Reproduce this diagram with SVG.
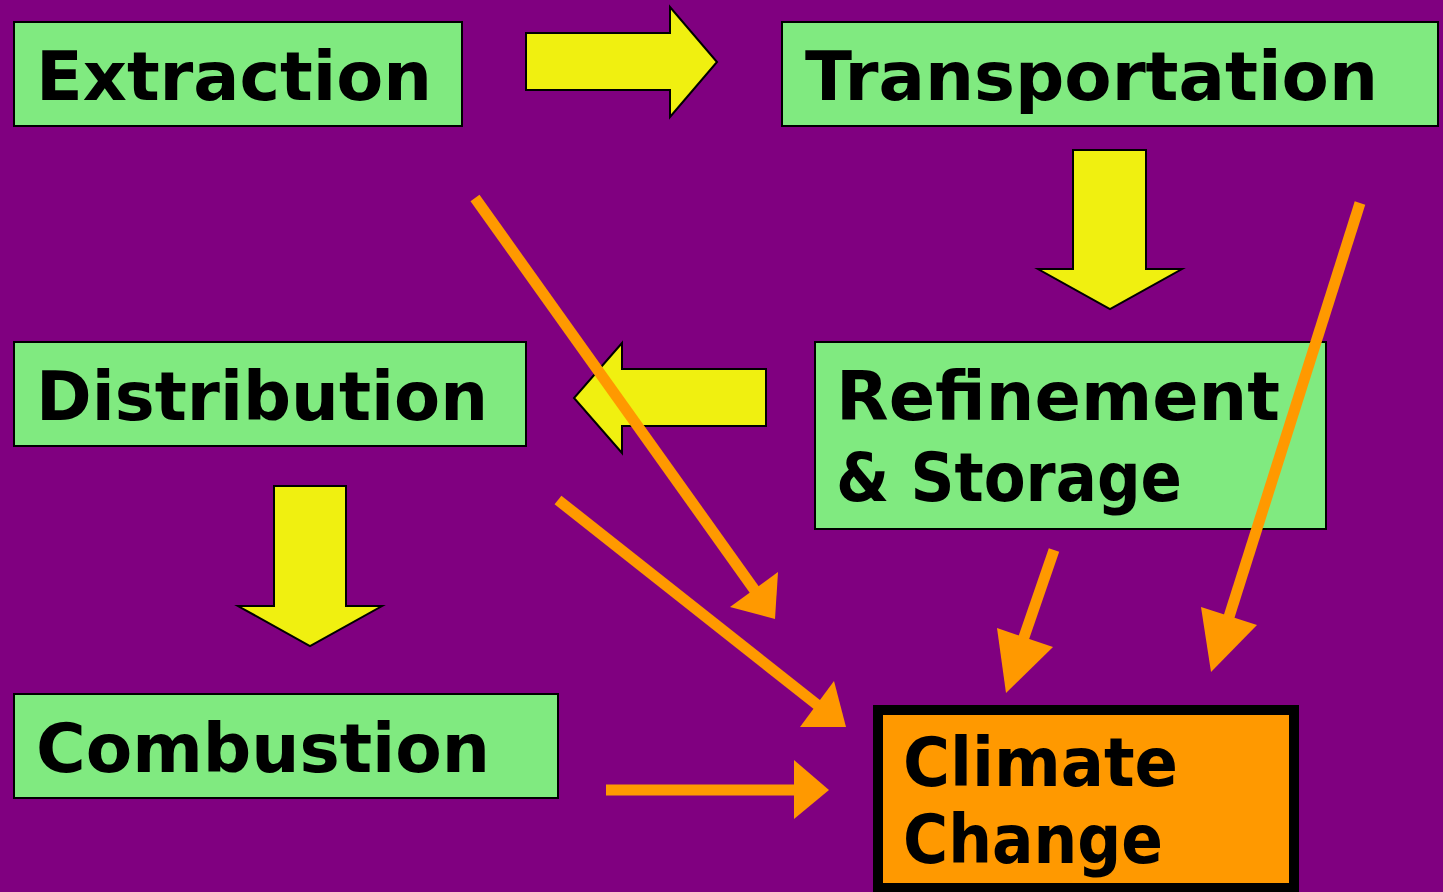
<svg xmlns="http://www.w3.org/2000/svg" width="1443" height="892" viewBox="0 0 1443 892">
<style>
.box{fill:#80EA80;stroke:#000;stroke-width:2}
.lbl{font-family:"DejaVu Sans","Liberation Sans",sans-serif;font-weight:bold;font-size:68px;fill:#000}
.ya{fill:#F0F010;stroke:#000;stroke-width:2;stroke-linejoin:miter}
.ol{stroke:#FF9900;stroke-width:11;fill:none}
.oh{fill:#FF9900}
</style>
<rect x="0" y="0" width="1443" height="892" fill="#800080"/>
<g id="extraction">
<rect class="box" x="14" y="22" width="448" height="104"/>
<text class="lbl" x="36" y="100" textLength="396" lengthAdjust="spacingAndGlyphs">Extraction</text>
</g>
<g id="transportation">
<rect class="box" x="782" y="22" width="656" height="104"/>
<text class="lbl" x="805" y="100" textLength="573" lengthAdjust="spacingAndGlyphs">Transportation</text>
</g>
<g id="distribution">
<rect class="box" x="14" y="342" width="512" height="104"/>
<text class="lbl" x="36" y="420" textLength="452" lengthAdjust="spacingAndGlyphs">Distribution</text>
</g>
<g id="refinement">
<rect class="box" x="815" y="342" width="511" height="187"/>
<text class="lbl" x="836" y="420" textLength="444" lengthAdjust="spacingAndGlyphs">Refinement</text>
<text class="lbl" x="836" y="501" textLength="346" lengthAdjust="spacingAndGlyphs">&amp; Storage</text>
</g>
<g id="combustion">
<rect class="box" x="14" y="694" width="544" height="104"/>
<text class="lbl" x="36" y="772" textLength="454" lengthAdjust="spacingAndGlyphs">Combustion</text>
</g>
<g id="climate-change">
<rect x="878" y="710" width="416" height="178" fill="#FF9900" stroke="#000" stroke-width="10"/>
<text class="lbl" x="903" y="786" textLength="275" lengthAdjust="spacingAndGlyphs">Climate</text>
<text class="lbl" x="903" y="863" textLength="260" lengthAdjust="spacingAndGlyphs">Change</text>
</g>
<g id="connectors">
<polygon class="ya" points="526,33 670,33 670,7 717,62 670,117 670,90 526,90"/>
<polygon class="ya" points="1073,150 1146,150 1146,269 1182,269 1110,309 1038,269 1073,269"/>
<polygon class="ya" points="766,369 622,369 622,343 574,398 622,453 622,426 766,426"/>
<polygon class="ya" points="274,486 346,486 346,606 382,606 310,646 238,606 274,606"/>
<line class="ol" x1="475" y1="198" x2="756" y2="592"/>
<polygon class="oh" points="778,572 775,619 730,607"/>
<line class="ol" x1="558" y1="500" x2="820" y2="707"/>
<polygon class="oh" points="834,681 846,727 800,727"/>
<line class="ol" x1="1054" y1="550" x2="1023" y2="640"/>
<polygon class="oh" points="997,628 1053,647 1006,693"/>
<line class="ol" x1="1360" y1="203" x2="1228" y2="620"/>
<polygon class="oh" points="1201,607 1257,625 1211,672"/>
<line class="ol" x1="606" y1="790" x2="796" y2="790"/>
<polygon class="oh" points="794,760 829,790 794,819"/>
</g>
</svg>
